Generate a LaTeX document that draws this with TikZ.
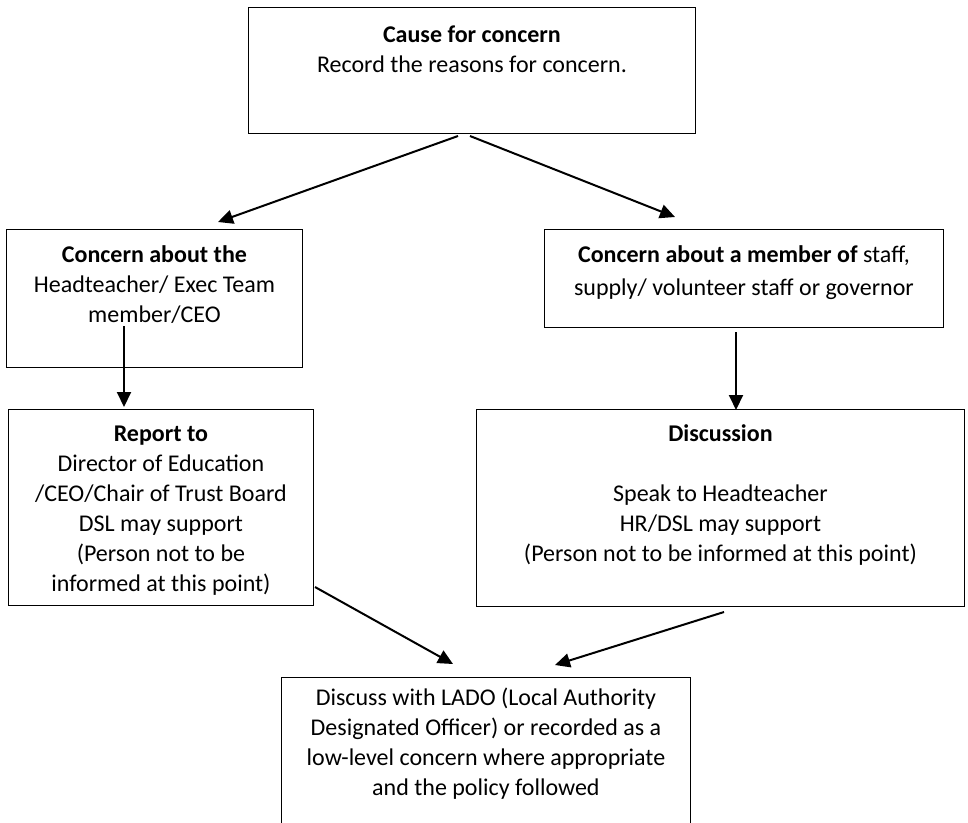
\documentclass[tikz,border=0pt]{standalone}
\usepackage{fontspec}
\setmainfont{Carlito}
\usetikzlibrary{arrows.meta}

% text of a box: width, height, drop to first baseline, lines
\newcommand{\boxtext}[4]{\parbox[t][#2][t]{#1}{\centering\rule{0pt}{#3}#4}}

\tikzset{
flowbox/.style={draw, line width=0.9pt, inner sep=0pt, anchor=north west}, % boxes
flowarrow/.style={line width=2pt, -{Triangle[length=15pt,width=14pt]}} % arrows
}

\begin{document}
\begin{tikzpicture}[x=1pt, y=-1pt, font=\fontsize{24}{30}\selectfont]
\clip (0,0) rectangle (968,822); % page size
% boxes
\node[flowbox] (cause) at (248,7) {\boxtext{447pt}{126pt}{35pt}{\textbf{Cause for concern}\\ Record the reasons for concern.}};
\node[flowbox] (aboutHead) at (6,229) {\boxtext{296pt}{138pt}{33pt}{\textbf{Concern about the}\\ Headteacher/ Exec Team\\ member/CEO}};
\node[flowbox] (aboutStaff) at (544,229) {\boxtext{399pt}{98pt}{33pt}{\baselineskip=33pt \textbf{Concern about a member of} staff,\\ supply/ volunteer staff or governor}};
\node[flowbox] (reportTo) at (8,409) {\boxtext{305pt}{196pt}{32pt}{\textbf{Report to}\\ Director of Education\\ /CEO/Chair of Trust Board\\ DSL may support\\ (Person not to be\\ informed at this point)}};
\node[flowbox] (discussion) at (476,409) {\boxtext{488pt}{197pt}{32pt}{\textbf{Discussion}\\[30pt] Speak to Headteacher\\ HR/DSL may support\\ (Person not to be informed at this point)}};
\node[flowbox] (lado) at (281,677) {\boxtext{409pt}{170pt}{28pt}{Discuss with LADO (Local Authority\\ Designated Officer) or recorded as a\\ low-level concern where appropriate\\ and the policy followed}};
% arrow ends
\coordinate (causeL) at (458,136);
\coordinate (causeR) at (470,136);
\coordinate (headIn) at (218,222);
\coordinate (staffIn) at (675,217);
\coordinate (headOut) at (124,326);
\coordinate (reportIn) at (124,407);
\coordinate (staffOut) at (736,332);
\coordinate (discIn) at (736,410);
\coordinate (reportOut) at (315,587);
\coordinate (discOut) at (724,612);
\coordinate (ladoL) at (453,664);
\coordinate (ladoR) at (555,665);
% arrows
\draw[flowarrow] (causeL) -- (headIn);
\draw[flowarrow] (causeR) -- (staffIn);
\draw[flowarrow] (headOut) -- (reportIn);
\draw[flowarrow] (staffOut) -- (discIn);
\draw[flowarrow] (reportOut) -- (ladoL);
\draw[flowarrow] (discOut) -- (ladoR);
\end{tikzpicture}
\end{document}
